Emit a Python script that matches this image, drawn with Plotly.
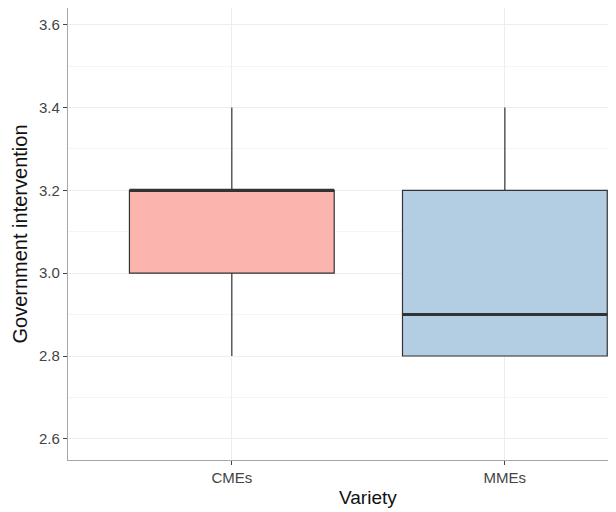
import plotly.graph_objects as go

categories = ["CMEs", "MMEs"]
q1 = [3.0, 2.8]
median = [3.2, 2.9]
q3 = [3.2, 3.2]
lower = [2.8, 2.8]
upper = [3.4, 3.4]
fills = ["#FBB4AE", "#B3CDE3"]
ytick_vals = [2.6, 2.8, 3.0, 3.2, 3.4, 3.6]
ytick_text = ["2.6", "2.8", "3.0", "3.2", "3.4", "3.6"]
yminor_vals = [2.7, 2.9, 3.1, 3.3, 3.5]
x_title = "Variety"
y_title = "Government intervention"

fig = go.Figure()
for i, c in enumerate(categories):
    fig.add_trace(go.Box(
        x=[c], q1=[q1[i]], median=[median[i]], q3=[q3[i]],
        lowerfence=[lower[i]], upperfence=[upper[i]],
        fillcolor=fills[i], line=dict(color="#333333", width=1.2),
        whiskerwidth=0, width=0.75, boxpoints=False, showlegend=False,
        hoverinfo="skip",
    ))
    # thick median line
    fig.add_trace(go.Box(
        x=[c], q1=[median[i]], median=[median[i]], q3=[median[i]],
        lowerfence=[median[i]], upperfence=[median[i]],
        fillcolor="rgba(0,0,0,0)", line=dict(color="#333333", width=3),
        whiskerwidth=0, width=0.75, boxpoints=False, showlegend=False,
        hoverinfo="skip",
    ))

font = "Arial, Liberation Sans, sans-serif"
# x-axis title sits midway between the two categories (original panel is wider than the crop)
fig.add_annotation(
    text=x_title, xref="x", x=0.5, yref="paper", y=0,
    xanchor="center", yanchor="middle", yshift=-37, showarrow=False,
    font=dict(size=19, color="#111111", family=font),
)

# page body has an 8px default margin, so the figure is sized to fill the rest
fig.update_layout(
    width=608, height=504,
    margin=dict(l=60, r=0, t=0, b=52),
    plot_bgcolor="white", paper_bgcolor="white",
    boxmode="overlay",
    font=dict(family=font, color="#444444", size=15),
    xaxis=dict(
        type="category", range=[-0.6, 1.407], automargin=False,
        showgrid=True, gridcolor="#EDEDED", gridwidth=1,
        showline=True, linecolor="#A6A6A6", linewidth=1.2,
        ticks="outside", ticklen=4, tickcolor="#444444", tickwidth=1.2,
        zeroline=False,
        tickfont=dict(size=15, color="#444444"),
    ),
    yaxis=dict(
        range=[2.549, 3.64], automargin=False,
        tickvals=ytick_vals, ticktext=ytick_text,
        title=dict(text=y_title, font=dict(size=20, color="#111111"), standoff=6),
        showgrid=True, gridcolor="#EDEDED", gridwidth=1,
        minor=dict(tickvals=yminor_vals, showgrid=True, gridcolor="#F5F5F5", gridwidth=1, ticks=""),
        showline=True, linecolor="#A6A6A6", linewidth=1.2,
        ticks="outside", ticklen=4, tickcolor="#444444", tickwidth=1.2,
        zeroline=False,
        tickfont=dict(size=15, color="#444444"),
    ),
)

fig.write_html("out.html")
